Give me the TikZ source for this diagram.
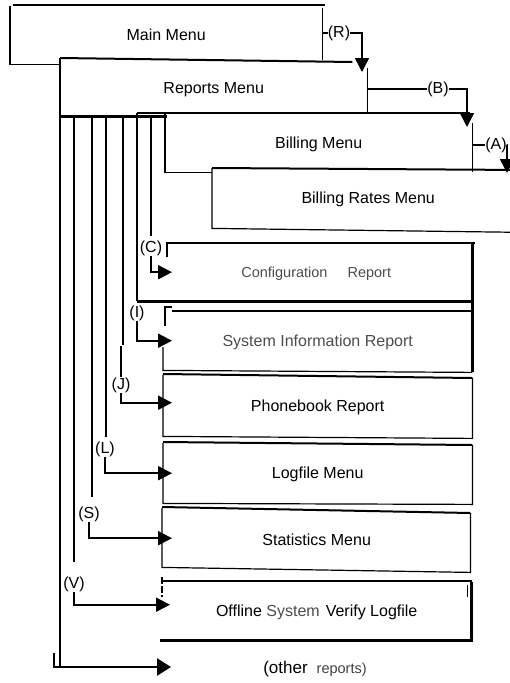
\documentclass[tikz,border=0pt]{standalone}
\usepackage{fontspec}
\setmainfont{Liberation Sans}
\usetikzlibrary{arrows.meta,calc}
\newcommand\dfont{\fontsize{16}{18}\selectfont}
\newcommand\sfont{\fontsize{14.5}{17}\selectfont}
\begin{document}
\begin{tikzpicture}[x=1pt,y=-1pt,
  box/.style={draw=none,inner sep=0pt,anchor=north west,font=\dfont,text height=11.5pt,text depth=0pt},
  lab/.style={inner sep=0pt,font=\dfont,text height=11.7pt,text depth=3.4pt},
  thk/.style={line width=2.8pt},
  med/.style={line width=2pt},
  thn/.style={line width=1.2pt},
  conn/.style={line width=1.9pt,-{Triangle[length=14pt,width=14pt]}},
  bigconn/.style={line width=2.6pt,-{Triangle[length=14pt,width=17pt]}},
]
\useasboundingbox (0,0) rectangle (509,683);

% boxes
\node[box,minimum width=312pt,minimum height=58pt] (main) at (10,6) {Main Menu};
\node[box,minimum width=307pt,minimum height=56pt] (reports) at (60,60) {Reports Menu};
\node[box,minimum width=307pt,minimum height=59pt] (billing) at (165,113) {Billing Menu};
\node[box,minimum width=312pt,minimum height=60pt] (rates) at (212,168) {Billing Rates Menu};
\node[box,minimum width=312pt,minimum height=58pt,font=\sfont,text=black!70] (config) at (160,243) {Configuration\hspace{20pt}Report};
\node[box,minimum width=309pt,minimum height=59pt,text=black!70] (sysinfo) at (163,311) {System Information Report};
\node[box,minimum width=309pt,minimum height=61pt] (phone) at (163,375) {Phonebook Report};
\node[box,minimum width=309pt,minimum height=60pt] (logfile) at (163,443) {Logfile Menu};
\node[box,minimum width=307pt,minimum height=60pt] (stats) at (163,510) {Statistics Menu};
\node[box,minimum width=309pt,minimum height=59pt] (offline) at (162,581) {Offline {\color{black!70}System}\hspace{6pt}Verify Logfile};
\node[lab] (other) at (315,669) {{\fontsize{17}{18}\selectfont(other}\hspace{9pt}{\sfont\color{black!75}reports)}};

% labels
\node[lab] (R) at (339,33) {(R)};
\node[lab] (B) at (438,89) {(B)};
\node[lab] (A) at (496,145) {(A)};
\node[lab] (C) at (151,248) {(C)};
\node[lab] (I) at (137,313) {(I)};
\node[lab] (J) at (121,385) {(J)};
\node[lab] (L) at (105,449) {(L)};
\node[lab] (S) at (89,514) {(S)};
\node[lab] (V) at (74,584) {(V)};

\coordinate (Rtip) at (362,72);
\coordinate (Btip) at (467,127);
\coordinate (Atip) at (507,173);
\coordinate (otip) at (171,667);

% main menu outline
\draw[thk] ([xshift=3pt,yshift=1pt]main.north west) -- ([xshift=3pt,yshift=1pt]main.north east);
\draw[thn] (main.north west) -- (main.south west) -- (main.south west -| reports.west);
\draw[thn] ([yshift=-2pt]main.north east) -- ([yshift=4pt]main.south east);

% reports menu outline
\draw[med] ([yshift=2pt]reports.north west) -- ([xshift=-15pt,yshift=-2pt]reports.north east);
\draw[thn] ([yshift=-8pt]reports.north east) -- ([yshift=4pt]reports.south east);
\draw[thk] (reports.south west) -- ([xshift=2pt]reports.south west -| billing.west);

% billing menu outline
\draw[thk] (billing.north west -| I.north) -- ([xshift=-2pt]billing.north east);
\draw[thn] ([yshift=-10pt]billing.north east) -- (billing.south east);
\draw[thn] (billing.north west) -- (billing.south west) -- (billing.south west -| rates.west);

% billing rates outline
\draw[med] (rates.north west) -- ([yshift=-2pt]rates.north east);
\draw[thn] (rates.north west) -- (rates.south west) -- ([yshift=-4pt]rates.south east);

% configuration report outline
\draw[med] ([xshift=7pt,yshift=-14pt]config.north west) -- ([xshift=7pt,yshift=1pt]config.north west);
\draw[thk] ([xshift=7pt]config.north west) -- ([xshift=3pt]config.north east);
\draw[thk] (config.north east) -- ([yshift=-2pt]sysinfo.south east);
\draw[thk] (config.south west -| I.north) -- (config.south east);

% system information outline
\draw[med] ([xshift=9pt,yshift=4pt]sysinfo.north west) -- ([xshift=2pt,yshift=4pt]sysinfo.north west) -- ([xshift=2pt,yshift=-15pt]sysinfo.north west);
\draw[thk] ([xshift=9pt]sysinfo.north west) -- (sysinfo.north east);
\draw[thn] ([yshift=-36pt]sysinfo.north west) -- (sysinfo.south west) -- ([yshift=-2pt]sysinfo.south east);

% phonebook outline
\draw[med] ([yshift=1pt]phone.north west) -- ([yshift=-3pt]phone.north east);
\draw[thn] (phone.north west) -- (phone.south west) -- ([yshift=-2pt]phone.south east) -- ([yshift=-3pt]phone.north east);

% logfile outline
\draw[med] ([yshift=1pt]logfile.north west) -- ([yshift=-2pt]logfile.north east);
\draw[thn] (logfile.north west) -- (logfile.south west) -- ([yshift=-1pt]logfile.south east) -- ([yshift=-2pt]logfile.north east);

% statistics outline
\draw[med] ([xshift=-1pt,yshift=3pt]stats.north west) -- ([yshift=-3pt]stats.north east);
\draw[thn] ([xshift=-1pt,yshift=2pt]stats.north west) -- ([xshift=-1pt,yshift=3pt]stats.south west) -- ([yshift=-2pt]stats.south east) -- ([yshift=-3pt]stats.north east);

% offline outline
\draw[thk] (offline.north west) -- ([xshift=1pt]offline.north east);
\draw[thk] ([xshift=-2pt]offline.south west) -- (offline.south east) -- ([yshift=-1pt]offline.north east);
\draw[med,dash pattern=on 7pt off 2pt] ([yshift=4pt]offline.north west) -- ([yshift=-16pt]offline.north west);
\draw[thn] ([xshift=-4pt,yshift=-4pt]offline.north east) -- ([xshift=-4pt,yshift=-16pt]offline.north east);

% menu-to-menu connectors
\draw[thn] (main.east |- R.west) -- (R.west);
\draw[conn,line width=1.5pt] (R.east) -| (Rtip);
\draw[thn] (reports.east |- B.west) -- (B.west);
\draw[conn,line width=1.5pt] (B.east) -| (Btip);
\draw[thn] (billing.east |- A.west) -- (A.west);
\draw[conn,line width=1.5pt] (A.east) -| (Atip);

% report branches
\draw[thk] (C.north |- reports.south) -- ([yshift=4pt]C.north);
\draw[conn] (C.south) |- ([xshift=12pt]config.west);

\draw[thk] (billing.north west -| I.north) -- ([yshift=4pt]I.north);
\draw[conn] (I.south) |- ([xshift=9pt]sysinfo.west);

\draw[thk] ([xshift=2pt]J.north |- reports.south) -- ([xshift=2pt,yshift=32pt]J.north);
\draw[thn] ([yshift=31pt]J.north) -- (J.north);
\draw[conn] (J.south) |- ([xshift=9pt,yshift=3pt]phone.west);

\draw[thk] ([xshift=1pt]L.north |- reports.south) -- ([xshift=1pt,yshift=4pt]L.north);
\draw[conn] (L.south) |- ([xshift=9pt]logfile.west);

\draw[thk] ([xshift=3pt]S.north |- reports.south) -- ([xshift=3pt,yshift=9pt]S.north);
\draw[conn] (S.south) |- ([xshift=9pt,yshift=2pt]stats.west);

\draw[thk] (V.north |- reports.south) -- ([yshift=14pt]V.north);
\draw[conn] (V.south) |- ([xshift=8pt,yshift=6pt]offline.west);

\draw[thk] ([yshift=2pt]reports.north west) -- (reports.west |- otip);
\draw[bigconn] ([xshift=-7pt]reports.west |- otip) -- (otip);
\draw[thn] ([xshift=-6pt]reports.west |- otip) -- ++(0,-14);
\end{tikzpicture}
\end{document}
